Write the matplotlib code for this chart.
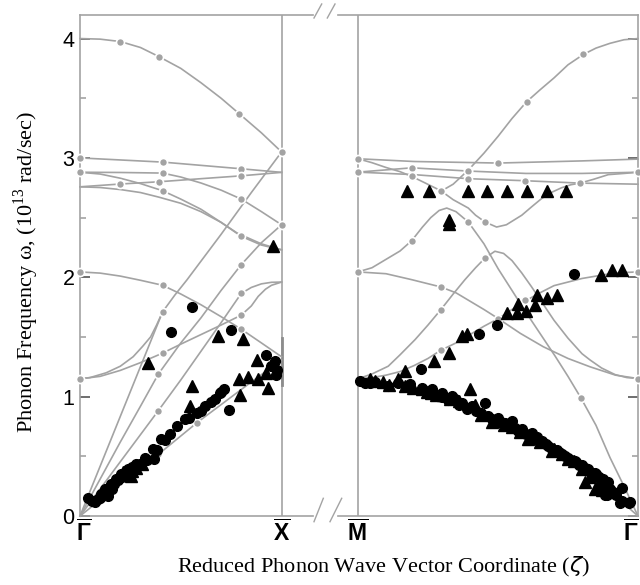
import matplotlib
matplotlib.use('Agg')
import matplotlib.pyplot as plt
from matplotlib.lines import Line2D

plt.rcParams['mathtext.fontset'] = 'custom'
plt.rcParams['mathtext.rm'] = 'Liberation Serif'
plt.rcParams['mathtext.bf'] = 'Liberation Sans:bold'

# ---- gray calculated curves, Gamma -> X  (zeta, omega) ----
g_top = [(0, 4.0), (0.1, 3.995), (0.2, 3.975), (0.3, 3.925), (0.39, 3.85), (0.5, 3.75), (0.6, 3.63),
         (0.7, 3.50), (0.79, 3.37), (0.9, 3.21), (1.0, 3.05)]
g_b = [(0, 3.0), (0.41, 2.965), (0.8, 2.909), (1.0, 2.879)]
g_c = [(0, 2.88), (0.2, 2.878), (0.41, 2.873), (0.5, 2.84), (0.6, 2.79), (0.7, 2.73), (0.8, 2.655),
       (0.9, 2.55), (1.0, 2.44)]
g_d = [(0, 2.758), (0.197, 2.781), (0.39, 2.80), (0.6, 2.826), (0.8, 2.85), (1.0, 2.879)]
g_e = [(0, 2.88), (0.1, 2.865), (0.2, 2.83), (0.3, 2.785), (0.41, 2.725), (0.5, 2.655), (0.6, 2.57),
       (0.7, 2.46), (0.8, 2.343), (0.9, 2.27), (1.0, 2.23)]
g_f = [(0, 2.758), (0.1, 2.752), (0.2, 2.735), (0.3, 2.71), (0.39, 2.672), (0.5, 2.62), (0.6, 2.55),
       (0.7, 2.46), (0.78, 2.37), (0.9, 2.28), (1.0, 2.23)]
g_g = [(0, 2.045), (0.1, 2.035), (0.2, 2.01), (0.3, 1.975), (0.41, 1.933), (0.5, 1.86), (0.6, 1.77),
       (0.7, 1.67), (0.8, 1.565), (0.9, 1.45), (1.0, 1.334)]
g_h = [(0, 1.149), (0.1, 1.17), (0.2, 1.22), (0.3, 1.285), (0.41, 1.365), (0.5, 1.44), (0.6, 1.52),
       (0.7, 1.60), (0.8, 1.683), (0.85, 1.76), (0.884, 1.84), (0.92, 1.9), (0.95, 1.933), (1.0, 1.96)]
g_i = [(0, 1.149), (0.05, 1.16), (0.13, 1.2), (0.2, 1.255), (0.264, 1.335), (0.31, 1.42), (0.35, 1.5),
       (0.38, 1.6), (0.41, 1.711)]
g_s = [(0, 0), (0.2, 0.835), (0.41, 1.711), (0.47, 1.85), (0.53, 1.977), (0.7, 2.36), (0.85, 2.71), (1.0, 3.05)]
g_2 = [(0, 0), (0.1, 0.31), (0.2, 0.62), (0.3, 0.92), (0.389, 1.19), (0.5, 1.45), (0.6, 1.66), (0.7, 1.89),
       (0.8, 2.106), (0.9, 2.29), (1.0, 2.44)]
g_3 = [(0, 0), (0.2, 0.455), (0.387, 0.879), (0.5, 1.14), (0.6, 1.38), (0.7, 1.62), (0.8, 1.865),
       (0.85, 1.915), (0.9, 1.945), (0.95, 1.958), (1.0, 1.96)]
g_4 = [(0, 0), (0.2, 0.27), (0.389, 0.517), (0.579, 0.78), (0.8, 1.06), (1.0, 1.31)]
left_curves = [g_top, g_b, g_c, g_d, g_e, g_f, g_g, g_h, g_i, g_s, g_2, g_3, g_4]

left_dot_x = [0.2, 0.39, 0.79, 1.0, 0, 0.41, 0.8, 0, 0.41, 0.8, 1.0, 0.197, 0.39, 0.8,
              0.41, 0.8, 0, 0.41, 0.8, 0, 0.41, 0.8, 0.41, 0.389, 0.8, 0.387, 0.8, 0.389, 0.579]
left_dot_y = [3.975, 3.847, 3.372, 3.05, 3.0, 2.965, 2.909, 2.88, 2.873, 2.655, 2.44, 2.781, 2.80, 2.85,
              2.725, 2.343, 2.045, 1.933, 1.565, 1.149, 1.365, 1.683, 1.711, 1.19, 2.106, 0.879, 1.865, 0.517, 0.78]

# ---- gray calculated curves, M -> Gamma  (fraction of path, omega) ----
r_top = [(0.293, 2.716), (0.34, 2.78), (0.394, 2.898), (0.45, 3.04), (0.5, 3.18), (0.55, 3.33), (0.602, 3.47),
         (0.65, 3.57), (0.7, 3.67), (0.75, 3.78), (0.805, 3.867), (0.85, 3.92), (0.9, 3.96), (0.95, 3.99), (1.0, 4.0)]
r_flat = [(0, 2.993), (0.2, 2.97), (0.501, 2.957), (0.8, 2.975), (1.0, 2.99)]
r_cross = [(0, 2.881), (0.192, 2.917), (0.394, 2.89), (0.6, 2.87), (0.8, 2.87), (1.0, 2.88)]
r_low = [(0, 2.881), (0.2, 2.86), (0.394, 2.826), (0.596, 2.809), (0.793, 2.789), (1.0, 2.78)]
r_valley = [(0, 2.993), (0.05, 2.96), (0.1, 2.92), (0.15, 2.885), (0.192, 2.845), (0.24, 2.79), (0.296, 2.725),
            (0.34, 2.65), (0.394, 2.58), (0.42, 2.52), (0.454, 2.463), (0.495, 2.421), (0.53, 2.44),
            (0.585, 2.52), (0.62, 2.59), (0.656, 2.66), (0.69, 2.71), (0.727, 2.75), (0.76, 2.775),
            (0.793, 2.789), (0.84, 2.82), (0.894, 2.86), (0.95, 2.87), (1.0, 2.88)]
r_peak = [(0, 2.045), (0.05, 2.08), (0.1, 2.15), (0.15, 2.22), (0.192, 2.307), (0.23, 2.42), (0.26, 2.5),
          (0.29, 2.56), (0.317, 2.58), (0.35, 2.55), (0.394, 2.463), (0.45, 2.28), (0.501, 2.07), (0.55, 1.89),
          (0.596, 1.72), (0.65, 1.53), (0.704, 1.34), (0.75, 1.17), (0.796, 0.99), (0.85, 0.76), (0.9, 0.49),
          (0.95, 0.25), (1.0, 0.0)]
r_desc = [(0, 2.045), (0.1, 2.03), (0.192, 1.98), (0.296, 1.919), (0.35, 1.87), (0.4, 1.8), (0.45, 1.73),
          (0.501, 1.654), (0.58, 1.53), (0.662, 1.418), (0.75, 1.32), (0.829, 1.25), (0.92, 1.18), (1.0, 1.152)]
r_up = [(0, 1.15), (0.05, 1.16), (0.1, 1.18), (0.15, 1.21), (0.2, 1.26), (0.25, 1.32), (0.296, 1.389),
        (0.35, 1.45), (0.4, 1.52), (0.45, 1.59), (0.501, 1.654), (0.55, 1.73), (0.596, 1.80), (0.65, 1.87),
        (0.7, 1.93), (0.75, 1.96), (0.8, 1.99), (0.85, 2.01), (0.9, 2.03), (0.95, 2.04), (1.0, 2.045)]
r_steep = [(0, 1.15), (0.05, 1.19), (0.108, 1.255), (0.15, 1.35), (0.204, 1.478), (0.25, 1.6), (0.296, 1.729),
           (0.34, 1.86), (0.382, 1.98), (0.42, 2.08), (0.454, 2.162), (0.489, 2.218), (0.52, 2.2), (0.55, 2.14),
           (0.585, 2.036), (0.62, 1.92), (0.66, 1.78), (0.7, 1.64), (0.75, 1.49), (0.8, 1.36), (0.829, 1.307),
           (0.87, 1.24), (0.918, 1.185), (0.96, 1.16), (1.0, 1.152)]
r_acou = [(0, 1.13), (0.108, 1.10), (0.227, 1.04), (0.346, 0.96), (0.465, 0.85), (0.585, 0.71), (0.704, 0.54),
          (0.823, 0.34), (0.942, 0.12), (1.0, 0.0)]
right_curves = [r_top, r_flat, r_cross, r_low, r_valley, r_peak, r_desc, r_up, r_steep, r_acou]

right_dot_x = [0.394, 0.602, 0.805, 0, 0, 0.501, 0.192, 0.394, 0.394, 0.596, 0.192, 0.296, 0.454, 0.793,
               0.192, 0.394, 0.796, 0, 0.296, 0.296, 0.501, 0.596, 0.296, 0.454, 1.0, 1.0, 1.0]
right_dot_y = [2.898, 3.47, 3.867, 2.993, 2.881, 2.957, 2.917, 2.89, 2.826, 2.809, 2.845, 2.725, 2.463, 2.789,
               2.307, 2.463, 0.99, 2.045, 1.919, 1.389, 1.654, 1.813, 1.729, 2.162, 2.88, 2.045, 1.152]

# ---- measured data, Gamma -> X ----
lc_x = [0.04, 0.073, 0.106, 0.139, 0.123, 0.156, 0.18, 0.205, 0.238, 0.28, 0.321, 0.368, 0.363, 0.404, 0.445,
        0.483, 0.523, 0.578, 0.619, 0.652, 0.694, 0.715, 0.738, 0.45, 0.556, 0.747, 0.925, 0.967, 0.975, 0.95, 0.97,
        0.09, 0.12, 0.15, 0.17, 0.06, 0.10, 0.14, 0.16, 0.19, 0.21, 0.26, 0.30, 0.33, 0.38, 0.42, 0.54, 0.60,
        0.67, 0.70]
lc_y = [0.153, 0.117, 0.181, 0.167, 0.223, 0.265, 0.307, 0.349, 0.39, 0.432, 0.488, 0.474, 0.558, 0.647, 0.689,
        0.753, 0.809, 0.859, 0.92, 0.954, 1.032, 1.06, 0.887, 1.54, 1.749, 1.562, 1.353, 1.297, 1.227, 1.26, 1.185,
        0.14, 0.19, 0.24, 0.27, 0.13, 0.15, 0.21, 0.23, 0.30, 0.33, 0.41, 0.44, 0.47, 0.55, 0.64, 0.82, 0.88,
        0.98, 1.04]
lt_x = [0.214, 0.238, 0.255, 0.338, 0.558, 0.545, 0.685, 0.81, 0.793, 0.788, 0.834, 0.884, 0.879, 0.934, 0.959,
        0.925, 0.23, 0.26, 0.28, 0.31]
lt_y = [0.371, 0.363, 0.335, 1.283, 1.093, 0.92, 1.506, 1.484, 1.018, 1.149, 1.166, 1.149, 1.305, 1.074, 2.26,
        1.2, 0.35, 0.38, 0.40, 0.44]

# ---- measured data, M -> Gamma ----
rc_x = [0.225, 0.432, 0.498, 0.771,
        0.007, 0.025, 0.043, 0.061, 0.108, 0.144, 0.186, 0.227, 0.263, 0.299, 0.335, 0.346, 0.37, 0.406, 0.454,
        0.465, 0.501, 0.525, 0.549, 0.585, 0.62, 0.638, 0.656, 0.68, 0.704, 0.727, 0.751, 0.775, 0.799, 0.823,
        0.846, 0.876, 0.894, 0.888, 0.942, 0.942, 0.971, 0.936, 0.969, 0.882,
        0.30, 0.32, 0.36, 0.39, 0.42, 0.44, 0.48, 0.51, 0.53, 0.56, 0.57, 0.60, 0.62, 0.64, 0.66, 0.67, 0.69,
        0.71, 0.72, 0.74, 0.76, 0.78, 0.79, 0.81, 0.83, 0.85, 0.86, 0.87, 0.89, 0.90, 0.91, 0.92]
rc_y = [1.233, 1.526, 1.598, 2.028,
        1.13, 1.116, 1.116, 1.121, 1.088, 1.116, 1.102, 1.074, 1.06, 1.032, 1.004, 0.982, 0.948, 0.921, 0.948,
        0.837, 0.823, 0.781, 0.795, 0.725, 0.697, 0.661, 0.628, 0.586, 0.544, 0.516, 0.488, 0.46, 0.424, 0.391,
        0.363, 0.307, 0.285, 0.173, 0.237, 0.126, 0.117, 0.111, 0.111, 0.176,
        1.00, 0.97, 0.93, 0.90, 0.88, 0.86, 0.81, 0.79, 0.76, 0.74, 0.71, 0.69, 0.66, 0.64, 0.61, 0.60, 0.57,
        0.55, 0.53, 0.50, 0.47, 0.45, 0.43, 0.40, 0.37, 0.35, 0.33, 0.29, 0.26, 0.23, 0.20, 0.18]
rt_x = [0.174, 0.254, 0.394, 0.462, 0.531, 0.602, 0.676, 0.742, 0.326, 0.326,
        0.168, 0.271, 0.325, 0.37, 0.39, 0.533, 0.567, 0.573, 0.599, 0.632, 0.638, 0.674, 0.712, 0.867, 0.906, 0.944,
        0.043, 0.144, 0.168, 0.198, 0.245, 0.305, 0.40, 0.418, 0.477, 0.549, 0.608, 0.692, 0.751, 0.811, 0.846, 0.87,
        0.28, 0.33, 0.36, 0.44, 0.50, 0.52, 0.58, 0.63, 0.65, 0.70, 0.73, 0.77, 0.80, 0.83, 0.86, 0.87, 0.90,
        0.06, 0.09, 0.11, 0.23, 0.26]
rt_y = [2.72, 2.72, 2.72, 2.72, 2.72, 2.72, 2.72, 2.72, 2.48, 2.45,
        1.213, 1.297, 1.367, 1.512, 1.526, 1.70, 1.70, 1.78, 1.721, 1.766, 1.849, 1.827, 1.855, 2.022, 2.064, 2.064,
        1.144, 1.144, 1.093, 1.074, 1.038, 1.018, 1.066, 0.926, 0.787, 0.748, 0.647, 0.544, 0.474, 0.285, 0.223, 0.251,
        1.01, 0.98, 0.96, 0.85, 0.80, 0.76, 0.70, 0.67, 0.62, 0.56, 0.52, 0.46, 0.39, 0.33, 0.28, 0.22, 0.20,
        1.13, 1.12, 1.10, 1.06, 1.03]

gray = '#a3a3a3'
fig = plt.figure(figsize=(6.4, 5.85), dpi=100)
ax1 = fig.add_axes([0.125, 0.1179, 0.3641, 0.8564])
ax2 = fig.add_axes([0.5281, 0.1179, 0.46875, 0.8564])
ymax = 4.197


def draw(ax, curves, dx, dy, cx, cy, tx, ty):
    for c in curves:
        ax.plot([p[0] for p in c], [p[1] for p in c], color=gray, lw=1.2, zorder=2, clip_on=False)
    ax.plot(dx, dy, 'o', ms=5.8, color=gray, mec='white', mew=1.2, zorder=3, clip_on=False)
    ax.plot(cx, cy, 'o', ms=7, color='black', mec='black', zorder=4, clip_on=False)
    ax.plot(tx, ty, '^', ms=8.5, color='black', mec='black', zorder=4, clip_on=False)


draw(ax1, left_curves, left_dot_x, left_dot_y, lc_x, lc_y, lt_x, lt_y)
draw(ax2, right_curves, right_dot_x, right_dot_y, rc_x, rc_y, rt_x, rt_y)

ax1.set_xlim(0, 1.156)
ax2.set_xlim(-0.0714, 1.0)
for ax in (ax1, ax2):
    ax.set_ylim(0, ymax)
    for s in ax.spines.values():
        s.set_color(gray)
        s.set_linewidth(1.2)
    ax.set_yticks([0, 1, 2, 3, 4])
    ax.set_yticks([0.5, 1.5, 2.5, 3.5], minor=True)
    ax.tick_params(axis='y', which='major', direction='in', length=7, width=1.2, color='#555555')
    ax.tick_params(axis='y', which='minor', direction='in', length=4.5, width=1.2, color=gray)
    ax.tick_params(axis='x', length=0, pad=3)

ax1.spines['right'].set_visible(False)
ax2.spines['left'].set_visible(False)
ax1.axvline(1.0, color=gray, lw=1.2, zorder=1)
ax1.plot([1.0, 1.0], [1.10, 1.49], color='#8c8c8c', lw=2.0, zorder=1)
ax2.axvline(0.0, color=gray, lw=1.2, zorder=1)
ax2.yaxis.tick_right()
ax2.tick_params(axis='y', which='both', labelright=False)
ax1.set_yticklabels(['0', '1', '2', '3', '4'], fontsize=15.5, family='Liberation Sans')
ax1.tick_params(axis='y', pad=4)

ax1.set_xticks([0.02, 1.0])
ax1.set_xticklabels([r'$\overline{\mathbf{\Gamma}}$', r'$\overline{\mathbf{X}}$'], fontsize=16.5)
ax2.set_xticks([0.0, 0.975])
ax2.set_xticklabels([r'$\overline{\mathbf{M}}$', r'$\overline{\mathbf{\Gamma}}$'], fontsize=16.5)

# axis break marks
for xa, xb, ya, yb in [(314, 321.7, 18, 4), (327.3, 335, 18, 4), (314, 323.3, 521.7, 498.3), (330, 341.7, 521.7, 498.3)]:
    fig.add_artist(Line2D([xa / 640, xb / 640], [1 - ya / 585, 1 - yb / 585], color=gray, lw=1.0))

fig.text(383 / 640, 1 - 567 / 585, r'Reduced Phonon Wave Vector Coordinate ($\zeta$)', ha='center', va='center',
         fontsize=16, family='Liberation Serif')
fig.text(26 / 640, 1 - 272 / 585, r'Phonon Frequency ω, (10$^{13}$ rad/sec)', ha='center', va='center',
         rotation=90, fontsize=16, family='Liberation Serif')

fig.savefig('out.png', dpi=100)
